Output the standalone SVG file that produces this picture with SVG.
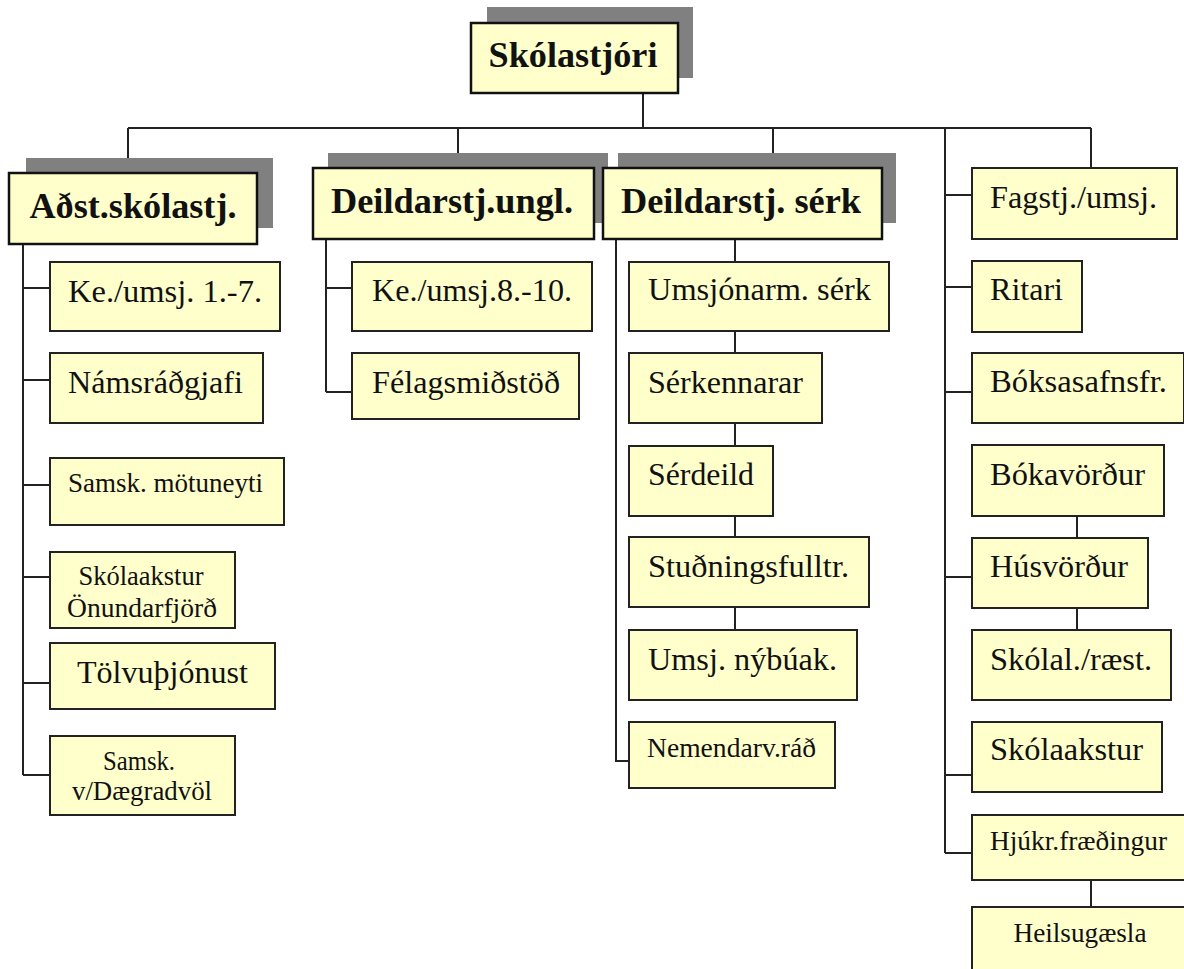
<svg xmlns="http://www.w3.org/2000/svg" width="1184" height="969" viewBox="0 0 1184 969" font-family="'Liberation Serif', 'Times New Roman', Times, serif">
<style>
.bg{fill:#ffffff}
.sh{fill:#808080}
.bx{fill:#ffffcc;stroke:#222222;stroke-width:2}
.bxb{fill:#ffffcc;stroke:#111111;stroke-width:2.5}
text{font-family:'Liberation Serif','Times New Roman',Times,serif;fill:#111111}
.hd{font-weight:bold;font-size:35px;text-anchor:middle}
.t{font-size:32px}
.s{font-size:27px}
.c{text-anchor:middle}
.ln{fill:none;stroke:#222222;stroke-width:2}
</style>
<rect class="bg" x="0" y="0" width="1184" height="969"/>
<g id="connectors">
<path class="ln" d="M643 93V128M128 128H1091M128 128V173M458 128V168M773 128V168M1091 128V168"/>
<path class="ln" d="M23 244V775M23 288H50M23 380H50M23 485H50M23 577H50M23 683H50M23 775H50"/>
<path class="ln" d="M326 239V392M326 288H352M326 392H352"/>
<path class="ln" d="M616 239V761H629M735 239V262M735 331V353M735 423V446M735 516V537M735 607V630"/>
<path class="ln" d="M945 128V853M945 195H972M945 287H972M945 392H972M945 577H972M945 775H972M945 853H972M1077 516V538M1077 608V630M1091 880V907"/>
</g>
<g id="n-skolastjori">
<rect class="sh" x="487" y="7" width="206" height="71"/>
<rect class="bxb" x="471" y="23" width="207" height="70"/>
<text class="hd" x="573" y="67" textLength="169" lengthAdjust="spacingAndGlyphs">Skólastjóri</text>
</g>
<g id="n-adst">
<rect class="sh" x="26" y="158" width="247" height="70"/>
<rect class="bxb" x="9" y="173" width="248" height="71"/>
<text class="hd" x="133" y="218" textLength="207" lengthAdjust="spacingAndGlyphs">Aðst.skólastj.</text>
</g>
<g id="n-deild-ungl">
<rect class="sh" x="328" y="153" width="280" height="70"/>
<rect class="bxb" x="313" y="168" width="281" height="71"/>
<text class="hd" x="452" y="213" textLength="242" lengthAdjust="spacingAndGlyphs">Deildarstj.ungl.</text>
</g>
<g id="n-deild-serk">
<rect class="sh" x="618" y="153" width="278" height="70"/>
<rect class="bxb" x="603" y="168" width="279" height="71"/>
<text class="hd" x="741" y="213" textLength="240" lengthAdjust="spacingAndGlyphs">Deildarstj. sérk</text>
</g>
<g id="n-ke17"><rect class="bx" x="50" y="262" width="230" height="69"/><text class="t" x="68" y="302" textLength="194" lengthAdjust="spacingAndGlyphs">Ke./umsj. 1.-7.</text></g>
<g id="n-namsradgjafi"><rect class="bx" x="50" y="353" width="213" height="70"/><text class="t" x="68" y="393" textLength="175" lengthAdjust="spacingAndGlyphs">Námsráðgjafi</text></g>
<g id="n-motuneyti"><rect class="bx" x="50" y="458" width="234" height="67"/><text class="s" x="68" y="492" textLength="195" lengthAdjust="spacingAndGlyphs">Samsk. mötuneyti</text></g>
<g id="n-skolaakstur-o"><rect class="bx" x="50" y="552" width="185" height="76"/><text class="s c" x="141" y="585" textLength="125" lengthAdjust="spacingAndGlyphs">Skólaakstur</text><text class="s c" x="142" y="617" textLength="150" lengthAdjust="spacingAndGlyphs">Önundarfjörð</text></g>
<g id="n-tolvu"><rect class="bx" x="50" y="643" width="225" height="66"/><text class="t" x="77" y="683" textLength="171" lengthAdjust="spacingAndGlyphs">Tölvuþjónust</text></g>
<g id="n-daegradvol"><rect class="bx" x="50" y="736" width="185" height="79"/><text class="s c" x="139" y="770" textLength="72" lengthAdjust="spacingAndGlyphs">Samsk.</text><text class="s c" x="142" y="800" textLength="140" lengthAdjust="spacingAndGlyphs">v/Dægradvöl</text></g>
<g id="n-ke810"><rect class="bx" x="352" y="262" width="240" height="69"/><text class="t" x="372" y="301" textLength="200" lengthAdjust="spacingAndGlyphs">Ke./umsj.8.-10.</text></g>
<g id="n-felagsmidstod"><rect class="bx" x="352" y="353" width="227" height="66"/><text class="t" x="372" y="393" textLength="188" lengthAdjust="spacingAndGlyphs">Félagsmiðstöð</text></g>
<g id="n-umsjonarm"><rect class="bx" x="629" y="262" width="260" height="69"/><text class="t" x="648" y="300" textLength="223" lengthAdjust="spacingAndGlyphs">Umsjónarm. sérk</text></g>
<g id="n-serkennarar"><rect class="bx" x="629" y="353" width="193" height="70"/><text class="t" x="648" y="393" textLength="155" lengthAdjust="spacingAndGlyphs">Sérkennarar</text></g>
<g id="n-serdeild"><rect class="bx" x="629" y="446" width="144" height="70"/><text class="t" x="648" y="485" textLength="106" lengthAdjust="spacingAndGlyphs">Sérdeild</text></g>
<g id="n-studnings"><rect class="bx" x="629" y="537" width="240" height="70"/><text class="t" x="648" y="577" textLength="201" lengthAdjust="spacingAndGlyphs">Stuðningsfulltr.</text></g>
<g id="n-nybuak"><rect class="bx" x="629" y="630" width="228" height="70"/><text class="t" x="648" y="670" textLength="189" lengthAdjust="spacingAndGlyphs">Umsj. nýbúak.</text></g>
<g id="n-nemendarv"><rect class="bx" x="629" y="722" width="206" height="66"/><text class="s" x="647" y="757" textLength="169" lengthAdjust="spacingAndGlyphs">Nemendarv.ráð</text></g>
<g id="n-fagstj"><rect class="bx" x="972" y="168" width="205" height="71"/><text class="t" x="990" y="208" textLength="167" lengthAdjust="spacingAndGlyphs">Fagstj./umsj.</text></g>
<g id="n-ritari"><rect class="bx" x="972" y="261" width="110" height="71"/><text class="t" x="990" y="300" textLength="73" lengthAdjust="spacingAndGlyphs">Ritari</text></g>
<g id="n-boksasafn"><rect class="bx" x="972" y="353" width="212" height="70"/><text class="t" x="990" y="392" textLength="177" lengthAdjust="spacingAndGlyphs">Bóksasafnsfr.</text></g>
<g id="n-bokavordur"><rect class="bx" x="972" y="445" width="192" height="71"/><text class="t" x="990" y="485" textLength="155" lengthAdjust="spacingAndGlyphs">Bókavörður</text></g>
<g id="n-husvordur"><rect class="bx" x="972" y="538" width="176" height="70"/><text class="t" x="990" y="577" textLength="138" lengthAdjust="spacingAndGlyphs">Húsvörður</text></g>
<g id="n-skolal"><rect class="bx" x="972" y="630" width="199" height="70"/><text class="t" x="990" y="670" textLength="162" lengthAdjust="spacingAndGlyphs">Skólal./ræst.</text></g>
<g id="n-skolaakstur"><rect class="bx" x="972" y="722" width="190" height="70"/><text class="t" x="990" y="760" textLength="153" lengthAdjust="spacingAndGlyphs">Skólaakstur</text></g>
<g id="n-hjukr"><rect class="bx" x="972" y="815" width="220" height="65"/><text class="s" x="990" y="850" textLength="177" lengthAdjust="spacingAndGlyphs">Hjúkr.fræðingur</text></g>
<g id="n-heilsugaesla"><rect class="bx" x="972" y="907" width="220" height="80"/><text class="s c" x="1080" y="942" textLength="133" lengthAdjust="spacingAndGlyphs">Heilsugæsla</text></g>
</svg>
